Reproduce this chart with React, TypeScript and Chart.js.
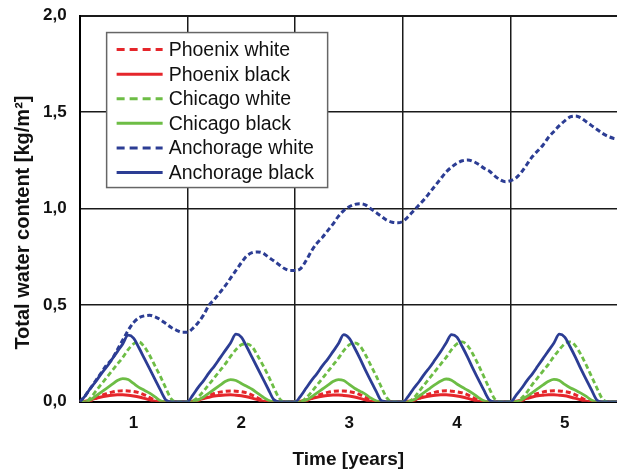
import React, { useEffect, useRef } from "react";
import { Chart, registerables } from "chart.js";

Chart.register(...registerables);

// Time in years (0.05-year steps)
const TIME = [
  0, 0.05, 0.1, 0.15, 0.2, 0.25, 0.3, 0.35, 0.4, 0.45, 0.5, 0.55, 0.6, 0.65, 0.7, 0.75, 0.8, 0.85, 0.9, 0.95,
  1, 1.05, 1.1, 1.15, 1.2, 1.25, 1.3, 1.35, 1.4, 1.45, 1.5, 1.55, 1.6, 1.65, 1.7, 1.75, 1.8, 1.85, 1.9, 1.95,
  2, 2.05, 2.1, 2.15, 2.2, 2.25, 2.3, 2.35, 2.4, 2.45, 2.5, 2.55, 2.6, 2.65, 2.7, 2.75, 2.8, 2.85, 2.9, 2.95,
  3, 3.05, 3.1, 3.15, 3.2, 3.25, 3.3, 3.35, 3.4, 3.45, 3.5, 3.55, 3.6, 3.65, 3.7, 3.75, 3.8, 3.85, 3.9, 3.95,
  4, 4.05, 4.1, 4.15, 4.2, 4.25, 4.3, 4.35, 4.4, 4.45, 4.5, 4.55, 4.6, 4.65, 4.7, 4.75, 4.8, 4.85, 4.9, 4.95,
  5,
];

const PHOENIX_WHITE = [
  0, 0, 0.005, 0.018, 0.032, 0.042, 0.05, 0.055, 0.057, 0.056, 0.053, 0.047, 0.036, 0.022, 0.008, 0, 0, 0, 0, 0,
  0, 0, 0.006, 0.019, 0.033, 0.043, 0.05, 0.054, 0.056, 0.055, 0.052, 0.046, 0.035, 0.021, 0.007, 0, 0, 0, 0, 0,
  0, 0, 0.005, 0.017, 0.031, 0.041, 0.049, 0.054, 0.056, 0.056, 0.053, 0.047, 0.037, 0.023, 0.008, 0, 0, 0, 0, 0,
  0, 0, 0.006, 0.018, 0.032, 0.042, 0.05, 0.055, 0.057, 0.055, 0.052, 0.046, 0.036, 0.022, 0.008, 0, 0, 0, 0, 0,
  0, 0, 0.005, 0.018, 0.032, 0.043, 0.051, 0.055, 0.057, 0.056, 0.053, 0.047, 0.036, 0.022, 0.008, 0, 0, 0, 0, 0,
  0,
];

const PHOENIX_BLACK = [
  0, 0.003, 0.01, 0.018, 0.025, 0.03, 0.034, 0.036, 0.036, 0.034, 0.03, 0.025, 0.018, 0.01, 0.003, 0, 0, 0, 0, 0,
  0, 0.003, 0.01, 0.017, 0.024, 0.03, 0.033, 0.035, 0.036, 0.034, 0.031, 0.026, 0.019, 0.011, 0.003, 0, 0, 0, 0, 0,
  0, 0.003, 0.009, 0.017, 0.024, 0.029, 0.033, 0.035, 0.035, 0.033, 0.03, 0.025, 0.018, 0.01, 0.003, 0, 0, 0, 0, 0,
  0, 0.003, 0.01, 0.018, 0.025, 0.03, 0.034, 0.036, 0.036, 0.034, 0.03, 0.025, 0.018, 0.01, 0.003, 0, 0, 0, 0, 0,
  0, 0.003, 0.01, 0.018, 0.025, 0.031, 0.034, 0.036, 0.036, 0.034, 0.031, 0.025, 0.018, 0.01, 0.003, 0, 0, 0, 0, 0,
  0,
];

const CHICAGO_WHITE = [
  0, 0, 0.02, 0.055, 0.09, 0.125, 0.16, 0.195, 0.23, 0.27, 0.3, 0.31, 0.285, 0.24, 0.185, 0.13, 0.07, 0.015, 0, 0,
  0, 0.005, 0.025, 0.055, 0.09, 0.125, 0.16, 0.195, 0.235, 0.27, 0.295, 0.3, 0.285, 0.24, 0.19, 0.135, 0.075, 0.02, 0, 0,
  0, 0, 0.02, 0.05, 0.085, 0.12, 0.155, 0.19, 0.225, 0.265, 0.295, 0.305, 0.29, 0.245, 0.19, 0.135, 0.075, 0.02, 0, 0,
  0, 0, 0.02, 0.055, 0.09, 0.125, 0.16, 0.195, 0.23, 0.27, 0.3, 0.31, 0.29, 0.245, 0.19, 0.13, 0.07, 0.015, 0, 0,
  0, 0, 0.02, 0.05, 0.09, 0.125, 0.16, 0.195, 0.235, 0.27, 0.3, 0.31, 0.29, 0.245, 0.19, 0.13, 0.07, 0.015, 0, 0,
  0,
];

const CHICAGO_BLACK = [
  0, 0, 0.01, 0.03, 0.05, 0.07, 0.09, 0.11, 0.12, 0.115, 0.095, 0.075, 0.06, 0.045, 0.025, 0.005, 0, 0, 0, 0,
  0, 0, 0.01, 0.025, 0.045, 0.065, 0.085, 0.105, 0.115, 0.11, 0.095, 0.08, 0.065, 0.045, 0.025, 0.008, 0, 0, 0, 0,
  0, 0, 0.008, 0.025, 0.045, 0.065, 0.085, 0.105, 0.115, 0.11, 0.09, 0.07, 0.055, 0.04, 0.02, 0.005, 0, 0, 0, 0,
  0, 0, 0.01, 0.03, 0.05, 0.07, 0.09, 0.108, 0.118, 0.112, 0.092, 0.075, 0.06, 0.042, 0.022, 0.005, 0, 0, 0, 0,
  0, 0, 0.01, 0.028, 0.048, 0.068, 0.088, 0.106, 0.116, 0.11, 0.09, 0.073, 0.06, 0.045, 0.028, 0.008, 0, 0, 0, 0,
  0,
];

const ANCHORAGE_WHITE = [
  0, 0.03, 0.07, 0.11, 0.15, 0.19, 0.22, 0.27, 0.32, 0.37, 0.41, 0.435, 0.445, 0.448, 0.44, 0.425, 0.405, 0.385, 0.37, 0.36,
  0.36, 0.38, 0.41, 0.45, 0.5, 0.53, 0.565, 0.6, 0.64, 0.68, 0.72, 0.755, 0.772, 0.776, 0.77, 0.75, 0.73, 0.71, 0.69, 0.68,
  0.68, 0.69, 0.73, 0.78, 0.82, 0.85, 0.885, 0.92, 0.96, 0.99, 1.01, 1.022, 1.026, 1.02, 1.0, 0.98, 0.96, 0.94, 0.93, 0.927,
  0.935, 0.96, 0.99, 1.02, 1.05, 1.085, 1.12, 1.155, 1.19, 1.215, 1.235, 1.248, 1.252, 1.245, 1.23, 1.21, 1.195, 1.17, 1.15, 1.14,
  1.145, 1.16, 1.19, 1.23, 1.27, 1.3, 1.33, 1.37, 1.4, 1.43, 1.455, 1.475, 1.48, 1.47, 1.45, 1.43, 1.41, 1.39, 1.375, 1.365,
  1.36,
];

const ANCHORAGE_BLACK = [
  0, 0.03, 0.07, 0.105, 0.145, 0.18, 0.22, 0.26, 0.3, 0.345, 0.33, 0.28, 0.225, 0.17, 0.115, 0.06, 0.01, 0, 0, 0,
  0, 0.035, 0.075, 0.11, 0.15, 0.185, 0.225, 0.265, 0.305, 0.35, 0.335, 0.285, 0.23, 0.175, 0.12, 0.065, 0.012, 0, 0, 0,
  0, 0.03, 0.07, 0.11, 0.145, 0.185, 0.22, 0.26, 0.3, 0.348, 0.33, 0.28, 0.225, 0.165, 0.11, 0.055, 0.005, 0, 0, 0,
  0, 0.03, 0.07, 0.105, 0.145, 0.18, 0.22, 0.26, 0.305, 0.348, 0.335, 0.285, 0.23, 0.17, 0.115, 0.06, 0.01, 0, 0, 0,
  0, 0.035, 0.07, 0.11, 0.145, 0.185, 0.225, 0.265, 0.305, 0.35, 0.335, 0.285, 0.23, 0.17, 0.115, 0.06, 0.008, 0, 0, 0,
  0,
];

const SERIES_LABELS = [
  "Phoenix white",
  "Phoenix black",
  "Chicago white",
  "Chicago black",
  "Anchorage white",
  "Anchorage black",
];

const X_TICKS = [0.5, 1, 1.5, 2, 2.5, 3, 3.5, 4, 4.5];
const Y_TICKS = [0, 0.5, 1, 1.5, 2];

const RED = "#e5262b";
const GREEN = "#6dbd45";
const BLUE = "#2c3d94";
const FONT = "'Liberation Sans', Arial, Helvetica, sans-serif";

const toPoints = (vals: number[]) => vals.map((v, i) => ({ x: TIME[i], y: v }));

const legendPlugin = {
  id: "insideLegend",
  afterDraw(chart: any) {
    const { ctx, chartArea } = chart;
    const left = chartArea.left + 27;
    const top = chartArea.top + 17;
    const w = 221;
    const h = 155;
    ctx.save();
    ctx.fillStyle = "#ffffff";
    ctx.fillRect(left, top, w, h);
    ctx.strokeStyle = "#666";
    ctx.lineWidth = 1.5;
    ctx.strokeRect(left, top, w, h);
    chart.data.datasets.forEach((ds: any, i: number) => {
      const y = top + 17 + i * 24.6;
      ctx.beginPath();
      ctx.setLineDash(ds.borderDash && ds.borderDash.length ? [8, 5] : []);
      ctx.strokeStyle = ds.borderColor;
      ctx.lineWidth = 3;
      ctx.moveTo(left + 10, y);
      ctx.lineTo(left + 56, y);
      ctx.stroke();
      ctx.setLineDash([]);
      ctx.fillStyle = "#111";
      ctx.font = `19.5px ${FONT}`;
      ctx.textBaseline = "middle";
      ctx.textAlign = "left";
      ctx.fillText(ds.label, left + 62, y + 1);
    });
    ctx.restore();
  },
};

export default function App() {
  const canvasRef = useRef<HTMLCanvasElement | null>(null);

  useEffect(() => {
    if (!canvasRef.current) return;
    const mk = (i: number, data: number[], color: string, dashed: boolean, order: number, width: number) => ({
      label: SERIES_LABELS[i],
      data: toPoints(data),
      borderColor: color,
      backgroundColor: color,
      borderWidth: width,
      borderDash: dashed ? [5, 3] : [],
      pointRadius: 0,
      fill: false,
      cubicInterpolationMode: "monotone" as const,
      order,
    });
    const chart = new Chart(canvasRef.current, {
      type: "line",
      data: {
        datasets: [
          mk(0, PHOENIX_WHITE, RED, true, 5, 3),
          mk(1, PHOENIX_BLACK, RED, false, 4, 3),
          mk(2, CHICAGO_WHITE, GREEN, true, 3, 2.8),
          mk(3, CHICAGO_BLACK, GREEN, false, 2, 2.8),
          mk(4, ANCHORAGE_WHITE, BLUE, true, 1, 3),
          mk(5, ANCHORAGE_BLACK, BLUE, false, 0, 2.8),
        ],
      },
      options: {
        animation: false,
        responsive: false,
        layout: { padding: { left: 7, top: 4, right: 0, bottom: 2 } },
        plugins: {
          legend: { display: false },
          tooltip: { enabled: false },
        },
        scales: {
          x: {
            type: "linear",
            min: 0,
            max: 4.985,
            afterBuildTicks: (axis: any) => {
              axis.ticks = X_TICKS.map((v) => ({ value: v }));
            },
            ticks: {
              autoSkip: false,
              maxRotation: 0,
              padding: 11,
              color: "#111",
              font: { family: FONT, size: 17, weight: "bold" },
              callback: (v: any) => (Number(v) % 1 === 0.5 ? String(Number(v) + 0.5) : ""),
            },
            grid: {
              drawTicks: false,
              color: (c: any) => (c.tick && c.tick.value % 1 === 0 ? "#1a1a1a" : "rgba(0,0,0,0)"),
              lineWidth: 1.5,
            },
            border: { display: true, color: "#000", width: 2 },
            title: {
              display: true,
              text: "Time [years]",
              color: "#111",
              font: { family: FONT, size: 19, weight: "bold" },
              padding: { top: 4, bottom: 0 },
            },
          },
          y: {
            type: "linear",
            min: 0,
            max: 2,
            afterBuildTicks: (axis: any) => {
              axis.ticks = Y_TICKS.map((v) => ({ value: v }));
            },
            ticks: {
              padding: 13,
              color: "#111",
              font: { family: FONT, size: 17, weight: "bold", lineHeight: 0.3 },
              callback: (v: any) => Number(v).toFixed(1).replace(".", ","),
            },
            grid: {
              drawTicks: false,
              color: "#1a1a1a",
              lineWidth: (c: any) => (c.tick && c.tick.value === 2 ? 2 : 1.5),
            },
            border: { display: true, color: "#000", width: 2 },
            title: {
              display: true,
              text: "Total water content [kg/m²]     ",
              color: "#111",
              font: { family: FONT, size: 20, weight: "bold" },
              padding: { top: 4, bottom: -5 },
            },
          },
        },
      },
      plugins: [legendPlugin],
    });
    return () => chart.destroy();
  }, []);

  return (
    <div
      style={{
        position: "fixed",
        left: 0,
        top: 0,
        width: 617,
        height: 473,
        background: "#fff",
      }}
    >
      <canvas ref={canvasRef} width={617} height={473} />
    </div>
  );
}
